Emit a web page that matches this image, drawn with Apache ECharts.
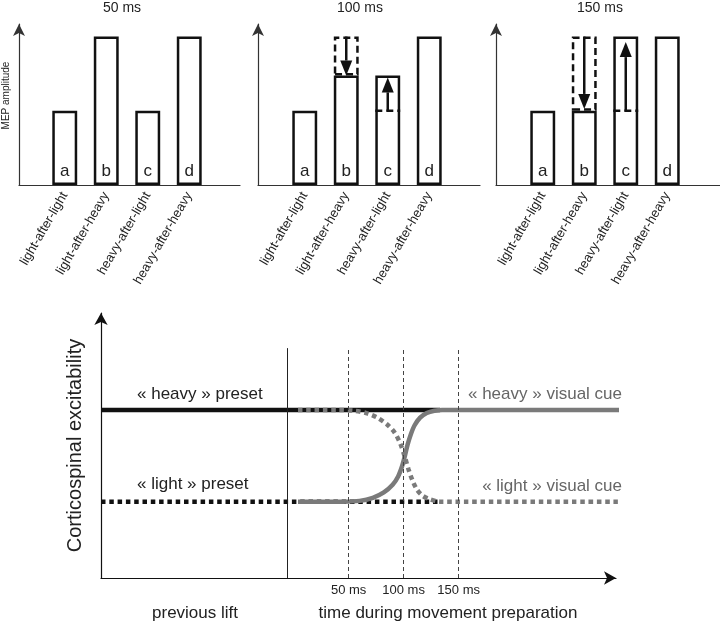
<!DOCTYPE html>
<html><head><meta charset="utf-8">
<script src="https://cdn.jsdelivr.net/npm/echarts@6/dist/echarts.min.js"></script>
<style>html,body{margin:0;padding:0;background:#fff}#c{width:720px;height:624px}</style>
</head><body><div id="c"></div>
<script>
// ---------- data: top panels ----------
const topCategories = ['light-after-light', 'light-after-heavy', 'heavy-after-light', 'heavy-after-heavy'];
const barLetters = ['a', 'b', 'c', 'd'];
const panelTitles = ['50 ms', '100 ms', '150 ms'];
const bars50 = [2, 4, 2, 4];
const bars100 = [2, 2.95, 2.95, 4];
const bars150 = [2, 2, 4, 4];
// former (dashed) bar tops above the current bar
const ghostTop50 = [null, null, null, null];
const ghostTop100 = [null, 4, null, null];
const ghostTop150 = [null, 4, null, null];
// former (dashed) level drawn inside a bar: [categoryIndex, level]
const dashedLevel50 = [];
const dashedLevel100 = [[2, 2]];
const dashedLevel150 = [[2, 2]];
// arrows: [categoryIndex, from, to]
const arrows50 = [];
const arrows100 = [[1, 4, 2.95], [2, 2, 2.9]];
const arrows150 = [[1, 4, 2.05], [2, 2, 3.85]];

// ---------- data: bottom panel ----------
const timeTickValues = [50, 100, 150];
const timeTickLabels = ['50 ms', '100 ms', '150 ms'];
const liftOnset = -5.5;
const heavyPreset = [[-175, 2.2], [133, 2.2]];
const lightPreset = [[-175, 1.0], [133, 1.0]];
const heavyCue = [[4, 1.0], [45, 1.0], [60, 1.01], [72, 1.05], [82, 1.12], [90, 1.22], [95, 1.33], [98.5, 1.46], [101, 1.59], [103.5, 1.74], [106.5, 1.88], [110, 2.0], [115, 2.1], [121, 2.16], [128, 2.19], [135, 2.2], [296, 2.2]];
const lightCue = [[4, 2.2], [40, 2.2], [55, 2.19], [66, 2.16], [76, 2.1], [85, 2.01], [92, 1.9], [97, 1.76], [101, 1.59], [104.5, 1.42], [108, 1.28], [112, 1.16], [117, 1.08], [124, 1.03], [133, 1.0], [296, 1.0]];
const textLabels = ['« heavy » preset', '« light » preset', '« heavy » visual cue', '« light » visual cue', 'previous lift', 'time during movement preparation'];

// ---------- build ----------
const FONT = 'Liberation Sans, Arial, Helvetica, sans-serif';
const INK = '#111';
const GREY = '#7a7a7a';
const panels = [
  { title: panelTitles[0], values: bars50, ghost: ghostTop50, dashed: dashedLevel50, arrows: arrows50, axisLeft: 18, axisRight: 240, dataLeft: 44, cx: 122 },
  { title: panelTitles[1], values: bars100, ghost: ghostTop100, dashed: dashedLevel100, arrows: arrows100, axisLeft: 258, axisRight: 480, dataLeft: 284, cx: 360 },
  { title: panelTitles[2], values: bars150, ghost: ghostTop150, dashed: dashedLevel150, arrows: arrows150, axisLeft: 496, axisRight: 720, dataLeft: 522, cx: 600 }
];

const grid = [], xAxis = [], yAxis = [], series = [], graphic = [];
const hiddenParts = { axisTick: { show: false }, axisLabel: { show: false }, splitLine: { show: false } };

function arrowItem(params, api) {
  const p0 = api.coord([api.value(0), api.value(1)]);
  const p1 = api.coord([api.value(0), api.value(2)]);
  const dir = p1[1] < p0[1] ? -1 : 1;
  const headL = 15, headW = 12;
  const base = p1[1] - dir * headL;
  return { type: 'group', children: [
    { type: 'line', shape: { x1: p0[0], y1: p0[1], x2: p0[0], y2: base }, style: { stroke: INK, lineWidth: 2.5 } },
    { type: 'polygon', shape: { points: [[p1[0], p1[1]], [p1[0] - headW / 2, base], [p1[0] + headW / 2, base]] }, style: { fill: INK } }
  ] };
}
function dashedLevelItem(params, api) {
  const p = api.coord([api.value(0), api.value(1)]);
  const half = api.size([1, 0])[0] * 0.3;
  return { type: 'line', shape: { x1: p[0] - half, y1: p[1], x2: p[0] + half, y2: p[1] }, style: { stroke: INK, lineWidth: 2.5, lineDash: [7, 4] } };
}

panels.forEach((P, i) => {
  const gDeco = 2 * i, gData = 2 * i + 1;
  grid.push({ left: P.axisLeft, top: 24, width: P.axisRight - P.axisLeft, height: 161 });
  grid.push({ left: P.dataLeft, top: 18, width: 166, height: 167 });
  xAxis.push(Object.assign({ gridIndex: gDeco, type: 'value', min: 0, max: 1,
    axisLine: { show: true, onZero: false, lineStyle: { color: '#333', width: 1.2 } } }, hiddenParts));
  xAxis.push({ gridIndex: gData, type: 'category', data: topCategories,
    axisLine: { show: false }, axisTick: { show: false },
    axisLabel: { interval: 0, rotate: 60, fontSize: 13, color: '#222', fontFamily: FONT, margin: 8 } });
  const deY = Object.assign({ gridIndex: gDeco, type: 'value', min: 0, max: 1,
    axisLine: { show: true, onZero: false, symbol: ['none', 'arrow'], symbolSize: [9, 12], lineStyle: { color: '#333', width: 1.2 } } }, hiddenParts);
  if (i === 0) {
    deY.name = 'MEP amplitude'; deY.nameLocation = 'middle'; deY.nameGap = 8;
    deY.nameTextStyle = { fontSize: 10, color: '#222', fontFamily: FONT, padding: [0, 0, 0, 18] };
  }
  yAxis.push(deY);
  yAxis.push({ gridIndex: gData, type: 'value', min: 0, max: 4.5, show: false });

  series.push({ type: 'bar', xAxisIndex: gData, yAxisIndex: gData, stack: 'p' + i, data: P.values,
    barWidth: '60%', silent: true, animation: false,
    itemStyle: { color: '#fff', borderColor: INK, borderWidth: 2.5 },
    label: { show: true, position: 'insideBottom', distance: 5, formatter: p => barLetters[p.dataIndex], fontSize: 17, color: '#222', fontFamily: FONT } });
  if (P.ghost.some(v => v != null)) {
    series.push({ type: 'bar', xAxisIndex: gData, yAxisIndex: gData, stack: 'p' + i,
      data: P.ghost.map((t, k) => t == null ? '-' : t - P.values[k]),
      barWidth: '60%', silent: true, animation: false,
      itemStyle: { color: 'rgba(0,0,0,0)', borderColor: INK, borderWidth: 2.5, borderType: [7, 4] } });
  }
  if (P.dashed.length) {
    series.push({ type: 'custom', xAxisIndex: gData, yAxisIndex: gData, data: P.dashed, renderItem: dashedLevelItem, silent: true, animation: false, z: 5 });
  }
  if (P.arrows.length) {
    series.push({ type: 'custom', xAxisIndex: gData, yAxisIndex: gData, data: P.arrows, renderItem: arrowItem, silent: true, animation: false, z: 6 });
  }
  graphic.push({ type: 'text', x: P.cx, y: 8, style: { text: P.title, fontSize: 14, fontFamily: FONT, fill: '#222', align: 'center', verticalAlign: 'middle' } });
});

// bottom panel
const gB = 6;
grid.push({ left: 101, top: 313, width: 515, height: 265 });
xAxis.push(Object.assign({ gridIndex: gB, type: 'value', min: -175, max: 293,
  axisLine: { show: true, onZero: false, symbol: ['none', 'arrow'], symbolSize: [10, 12], lineStyle: { color: INK, width: 1.2 } } }, hiddenParts));
yAxis.push(Object.assign({ gridIndex: gB, type: 'value', min: 0, max: 3.47,
  axisLine: { show: true, onZero: false, symbol: ['none', 'arrow'], symbolSize: [10, 12], lineStyle: { color: INK, width: 1.2 } },
  name: 'Corticospinal excitability', nameLocation: 'middle', nameGap: 16,
  nameTextStyle: { fontSize: 20, color: '#222', fontFamily: FONT } }, hiddenParts));

const vTop = 3.01;
const markLines = [[
  { coord: [liftOnset, 0], lineStyle: { type: 'solid', color: '#222', width: 1 }, label: { show: false } },
  { coord: [liftOnset, vTop] }
]].concat(timeTickValues.map((t, k) => [
  { coord: [t, 0], name: timeTickLabels[k], lineStyle: { type: [4, 3], color: '#444', width: 1 } },
  { coord: [t, vTop] }
]));

const lineBase = { type: 'line', xAxisIndex: gB, yAxisIndex: gB, symbol: 'none', clip: false, silent: true, animation: false };
series.push(Object.assign({}, lineBase, { data: heavyPreset, lineStyle: { color: INK, width: 4.5 },
  markLine: { silent: true, animation: false, symbol: ['none', 'none'], data: markLines,
    label: { show: true, position: 'start', formatter: '{b}', distance: 6, fontSize: 13, color: '#222', fontFamily: FONT } } }));
series.push(Object.assign({}, lineBase, { data: lightPreset, lineStyle: { color: INK, width: 4.5, type: [4.5, 3.8], cap: 'butt' } }));
series.push(Object.assign({}, lineBase, { data: lightCue, smooth: 0.3, lineStyle: { color: GREY, width: 4.5, type: [4.5, 3.8], cap: 'butt' } }));
series.push(Object.assign({}, lineBase, { data: heavyCue, smooth: 0.3, lineStyle: { color: GREY, width: 4.5 } }));

function txt(text, x, y, align, fill) {
  return { type: 'text', x: x, y: y, style: { text: text, fontSize: 17, fontFamily: FONT, fill: fill, align: align, verticalAlign: 'middle' } };
}
graphic.push(txt(textLabels[0], 137, 394, 'left', '#222'));
graphic.push(txt(textLabels[1], 137, 484, 'left', '#222'));
graphic.push(txt(textLabels[2], 622, 394, 'right', '#666'));
graphic.push(txt(textLabels[3], 622, 486, 'right', '#666'));
graphic.push(txt(textLabels[4], 195, 613, 'center', '#222'));
graphic.push(txt(textLabels[5], 448, 613, 'center', '#222'));

const chart = echarts.init(document.getElementById('c'));
chart.setOption({ backgroundColor: '#fff', animation: false, grid, xAxis, yAxis, series, graphic });
</script></body></html>
